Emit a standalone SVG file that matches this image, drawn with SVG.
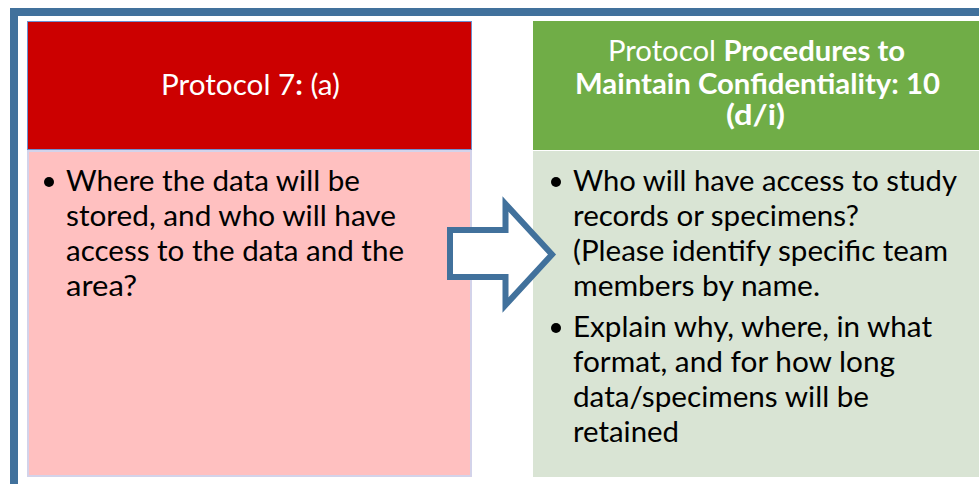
<svg xmlns="http://www.w3.org/2000/svg" width="979" height="484" viewBox="0 0 979 484">
  <style>
    .frame { fill: #41719c; }
    .hdr-text { fill: #ffffff; font-family: Lato, "Liberation Sans", sans-serif; font-size: 28px; }
    .body-text { fill: #000000; font-family: Lato, "Liberation Sans", sans-serif; font-size: 28.5px; }
    .b { font-weight: bold; }
    .bullet { fill: #000000; }
    .arrow { fill: #ffffff; stroke: #41719c; stroke-width: 6; stroke-linejoin: miter; }
  </style>

  <rect width="979" height="484" fill="#ffffff"/>

  <!-- slide frame: top and left bands -->
  <g id="frame">
    <rect class="frame" x="10" y="8" width="969" height="8"/>
    <rect class="frame" x="10" y="8" width="8" height="476"/>
  </g>

  <!-- left column: Protocol 7 -->
  <g id="node-protocol-7">
    <rect x="27.5" y="21.5" width="444" height="128" fill="#cc0000" stroke="#6c8fd0" stroke-width="1"/>
    <text class="hdr-text" x="161" y="95" textLength="179" lengthAdjust="spacingAndGlyphs">Protocol 7<tspan class="b">:</tspan> (a)</text>
    <rect x="28" y="151" width="443" height="325" fill="#ffc0c0" stroke="#d3d3ea" stroke-width="2"/>
    <circle class="bullet" cx="49" cy="182" r="5"/>
    <text class="body-text" x="66" y="191" textLength="294" lengthAdjust="spacingAndGlyphs">Where the data will be</text>
    <text class="body-text" x="66" y="226" textLength="330" lengthAdjust="spacingAndGlyphs">stored, and who will have</text>
    <text class="body-text" x="66" y="261" textLength="338" lengthAdjust="spacingAndGlyphs">access to the data and the</text>
    <text class="body-text" x="66" y="296" textLength="71" lengthAdjust="spacingAndGlyphs">area?</text>
  </g>

  <!-- right column: confidentiality procedures -->
  <g id="node-confidentiality">
    <rect x="533" y="21" width="446" height="129" fill="#70ad47"/>
    <text class="hdr-text" x="608" y="61" textLength="297" lengthAdjust="spacingAndGlyphs">Protocol <tspan class="b">Procedures to</tspan></text>
    <text class="hdr-text b" x="575" y="94" textLength="365" lengthAdjust="spacingAndGlyphs">Maintain Confidentiality: 10</text>
    <text class="hdr-text b" x="726" y="125" textLength="59" lengthAdjust="spacingAndGlyphs">(d/i)</text>
    <rect x="533" y="151" width="446" height="326" fill="#d9e4d4"/>
    <circle class="bullet" cx="556" cy="182" r="5"/>
    <text class="body-text" x="573" y="191" textLength="384" lengthAdjust="spacingAndGlyphs">Who will have access to study</text>
    <text class="body-text" x="573" y="226" textLength="286" lengthAdjust="spacingAndGlyphs">records or specimens?</text>
    <text class="body-text" x="573" y="261" textLength="375" lengthAdjust="spacingAndGlyphs">(Please identify specific team</text>
    <text class="body-text" x="573" y="296" textLength="247" lengthAdjust="spacingAndGlyphs">members by name.</text>
    <circle class="bullet" cx="556" cy="328" r="5"/>
    <text class="body-text" x="573" y="337" textLength="359" lengthAdjust="spacingAndGlyphs">Explain why, where, in what</text>
    <text class="body-text" x="573" y="372" textLength="322" lengthAdjust="spacingAndGlyphs">format, and for how long</text>
    <text class="body-text" x="573" y="407" textLength="296" lengthAdjust="spacingAndGlyphs">data/specimens will be</text>
    <text class="body-text" x="573" y="442" textLength="106" lengthAdjust="spacingAndGlyphs">retained</text>
  </g>

  <!-- connector: block arrow from left column to right column -->
  <g id="connectors">
    <path class="arrow" d="M450,230 L505.5,230 L505.5,204 L552,254.5 L505.5,305 L505.5,277 L450,277 Z"/>
  </g>
</svg>
